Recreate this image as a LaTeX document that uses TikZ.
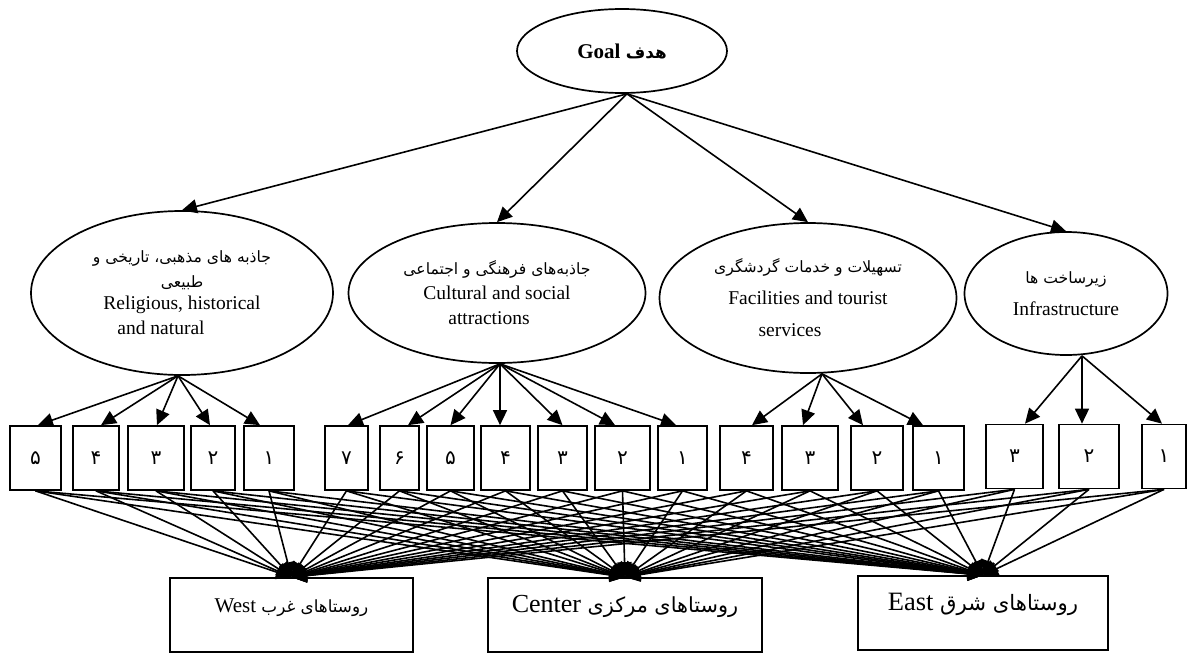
\documentclass[tikz,border=0pt]{standalone}
\usepackage{fontspec}
\setmainfont{Liberation Serif}
\newfontfamily\farsi[Script=Arabic,Scale=0.8]{DejaVu Sans}
\TeXXeTstate=1
\usepackage{tikz}
\usetikzlibrary{shapes,arrows.meta}
\newcommand{\pers}[1]{{\farsi #1}}
\tikzset{%
	criterion/.style={%
		ellipse,
		draw,
		line width=1.7pt,
		inner sep=0pt,
		align=center,
		font=\fontsize{19.5}{25}\selectfont
	},
	indicator/.style={%
		rectangle,
		draw,
		line width=1.7pt,
		inner sep=0pt,
		minimum height=64pt,
		font=\fontsize{25}{30}\selectfont
	},
	village/.style={%
		rectangle,
		draw,
		line width=1.7pt,
		inner ysep=0pt,
		text height=34pt,
		text depth=40pt
	},
	link/.style={-{Triangle[length=15pt,width=14pt]}, line width=1.6pt}
}

\begin{document}
\begin{tikzpicture}[x=1pt, y=-1pt]
	\useasboundingbox (0,0) rectangle (1188,656);
	% goal and criteria
	\node [criterion, minimum width=210pt, minimum height=84pt, font=\bfseries\fontsize{21}{25}\selectfont] (goal) at (622,51) {\beginR\pers{هدف} \beginL Goal\endL\endR};
	\node [criterion, minimum width=302pt, minimum height=164pt] (rel) at (182,293) {\beginR\pers{جاذبه های مذهبی، تاریخی و}\endR\\ \beginR\pers{طبیعی}\endR\hspace*{40pt}\\[-3pt] Religious, historical\\ and natural\hspace*{42pt}};
	\node [criterion, minimum width=297pt, minimum height=140pt] (cul) at (497,293) {\beginR\pers{جاذبه‌های فرهنگی و اجتماعی}\endR\\ Cultural and social\hspace*{30pt}\\ attractions\hspace*{16pt}};
	\node [criterion, minimum width=297pt, minimum height=150pt] (fac) at (808,298) {\beginR\pers{تسهیلات و خدمات گردشگری}\endR\\[7pt] Facilities and tourist\hspace*{16pt}\\[7pt] services\hspace*{36pt}};
	\node [criterion, minimum width=203pt, minimum height=123pt] (inf) at (1066,293.5) {\beginR\pers{زیرساخت ها}\endR\\[7pt] Infrastructure};

	% sub-criteria
	\node [indicator, minimum width=51pt] (rel5) at (35.5,458) {\pers{۵}};
	\node [indicator, minimum width=46pt] (rel4) at (96,458) {\pers{۴}};
	\node [indicator, minimum width=56pt] (rel3) at (156,458) {\pers{۳}};
	\node [indicator, minimum width=44pt] (rel2) at (213,458) {\pers{۲}};
	\node [indicator, minimum width=50pt] (rel1) at (269,458) {\pers{۱}};
	\node [indicator, minimum width=43pt] (cul7) at (346.5,458) {\pers{۷}};
	\node [indicator, minimum width=39pt] (cul6) at (399.5,458) {\pers{۶}};
	\node [indicator, minimum width=47pt] (cul5) at (450.5,458) {\pers{۵}};
	\node [indicator, minimum width=49pt] (cul4) at (505.5,458) {\pers{۴}};
	\node [indicator, minimum width=49pt] (cul3) at (562.5,458) {\pers{۳}};
	\node [indicator, minimum width=55pt] (cul2) at (622.5,458) {\pers{۲}};
	\node [indicator, minimum width=49pt] (cul1) at (682.5,458) {\pers{۱}};
	\node [indicator, minimum width=53pt] (fac4) at (746.5,458) {\pers{۴}};
	\node [indicator, minimum width=56pt] (fac3) at (810,458) {\pers{۳}};
	\node [indicator, minimum width=52pt] (fac2) at (877,458) {\pers{۲}};
	\node [indicator, minimum width=51pt] (fac1) at (938.5,458) {\pers{۱}};
	\node [indicator, minimum width=57pt] (inf3) at (1014.5,456.5) {\pers{۳}};
	\node [indicator, minimum width=60pt] (inf2) at (1089,456.5) {\pers{۲}};
	\node [indicator, minimum width=44pt] (inf1) at (1164,456.5) {\pers{۱}};

	% villages
	\node [village, minimum width=243pt, font=\fontsize{21}{25}\selectfont] (vwest) at (291.5,615) {\beginR\pers{روستاهای غرب} \beginL West\endL\endR};
	\node [village, minimum width=274pt, font=\fontsize{26}{30}\selectfont] (vcenter) at (625,615) {\beginR\pers{روستاهای مرکزی} \beginL Center\endL\endR};
	\node [village, minimum width=250pt, font=\fontsize{26.5}{30}\selectfont] (veast) at (983,613) {\beginR\pers{روستاهای شرق} \beginL East\endL\endR};

	% connectors
	\foreach \c in {rel,cul,fac,inf}
		\draw [link] ([xshift=5pt]goal.south) -- (\c.north);
	\foreach \b/\d in {rel5/2.5,rel4/5,rel3/1,rel2/-3,rel1/-9}
		\draw [link] ([xshift=-4pt]rel.south) -- ([xshift=\d pt]\b.north);
	\foreach \b/\d in {cul7/1.5,cul6/8.5,cul5/0,cul4/-5.5,cul3/0,cul2/-7.5,cul1/-6.5}
		\draw [link] ([xshift=3pt]cul.south) -- ([xshift=\d pt]\b.north);
	\foreach \b/\d in {fac4/5.5,fac3/-7,fac2/-14,fac1/-15.5}
		\draw [link] ([xshift=14pt]fac.south) -- ([xshift=\d pt]\b.north);
	\foreach \b/\d in {inf3/10.5,inf2/-7,inf1/-2}
		\draw [link] ([xshift=16pt]inf.south) -- ([xshift=\d pt]\b.north);
	\foreach \b in {rel5,rel4,rel3,rel2,rel1,cul7,cul6,cul5,cul4,cul3,cul2,cul1,fac4,fac3,fac2,fac1,inf3,inf2,inf1}
		\foreach \v in {vwest,vcenter,veast}
			\draw [link] (\b.south) -- (\v.north);
\end{tikzpicture}
\end{document}
